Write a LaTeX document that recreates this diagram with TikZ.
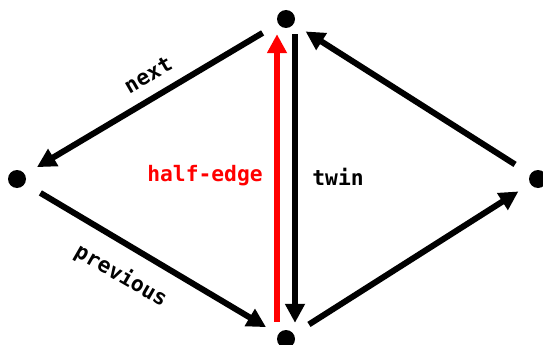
\documentclass[tikz,border=0pt]{standalone}
\usepackage{fontspec}
\setmonofont{DejaVu Sans Mono}
\usetikzlibrary{arrows.meta}

\tikzset{
  dot/.style={circle,fill=black,minimum size=18pt,inner sep=0pt},
  edge/.style={line width=6pt,-{Triangle[length=19pt,width=19pt]}},
  lbl/.style={font=\ttfamily\bfseries\fontsize{21.3}{24}\selectfont,inner sep=0pt}
}

\begin{document}
\begin{tikzpicture}[x=1pt,y=-1pt]
\useasboundingbox (0,0) rectangle (543,345);
\node[dot] (top) at (286,19) {};
\node[dot] (lft) at (17,179) {};
\node[dot] (bot) at (286,339) {};
\node[dot] (rgt) at (538,179) {};
\draw[edge,shorten <=18pt,shorten >=14pt] (top) -- (lft);
\draw[edge,shorten <=18pt,shorten >=14pt] (lft) -- (bot);
\draw[edge,shorten <=18pt,shorten >=14pt] (bot) -- (rgt);
\draw[edge,shorten <=18pt,shorten >=14pt] (rgt) -- (top);
\draw[edge,red,shorten <=8pt,shorten >=6pt] ([xshift=-9pt]bot.north) -- ([xshift=-9pt]top.south);
\draw[edge,shorten <=6pt,shorten >=7pt] ([xshift=9pt]top.south) -- ([xshift=9pt]bot.north);
\node[lbl,rotate=30] (nxt) at (148,75) {next};
\node[lbl,rotate=-30] (prv) at (121,276) {previous};
\node[lbl,red] (half) at (205,176) {half-edge};
\node[lbl] (twn) at (338,177) {twin};
\end{tikzpicture}
\end{document}
